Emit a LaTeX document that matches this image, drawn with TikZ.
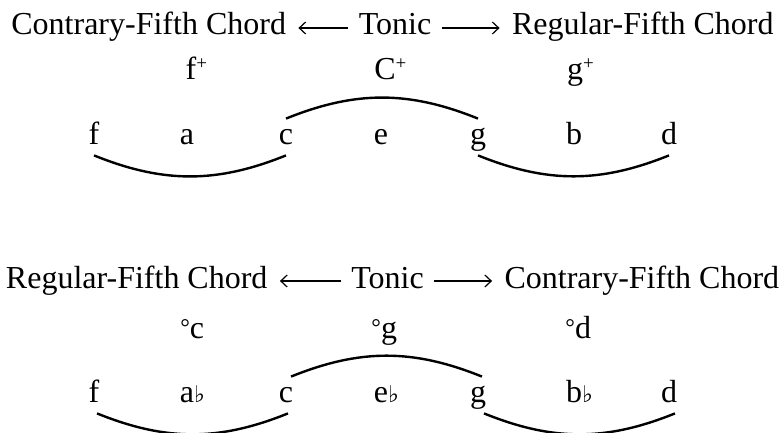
\documentclass[tikz,border=0pt]{standalone}
\usepackage{fontspec}
\setmainfont{Liberation Serif}
\newfontfamily\symbolfont{DejaVu Sans}
\usetikzlibrary{arrows.meta,positioning}
\newcommand{\fl}{\rlap{\symbolfont\fontsize{11.5}{11.5}\selectfont ♭}}
\newcommand{\maj}{\rlap{\fontsize{9.5}{9.5}\selectfont\raisebox{5pt}{+}}}
\newcommand{\mnr}{\llap{\fontsize{12}{12}\selectfont\raisebox{1.2pt}{°}}}

\begin{document}
\begin{tikzpicture}[
  x=0.5pt, y=0.5pt,
  every node/.style={font=\fontsize{16}{19}\selectfont},
  ttl/.style={inner sep=0pt, text height=11pt, text depth=4pt},
  lbl/.style={inner sep=0pt, anchor=base},
  ltr/.style={inner sep=0pt, anchor=base, text height=12.5pt, text depth=5.5pt},
  arr/.style={-{Straight Barb[length=3.2pt,width=6pt]}, line width=0.6pt, shorten <=5pt, shorten >=6pt},
  tie/.style={line width=1.2pt}
]
  \useasboundingbox (0,0) rectangle (781,-433);

  % upper system
  \node[ttl, anchor=base] (tonicA) at (395,-35) {Tonic};
  \node[ttl, left=36pt of tonicA] (contraA) {Contrary-Fifth Chord};
  \node[ttl, right=40pt of tonicA] (regA) {Regular-Fifth Chord};
  \draw[arr] (tonicA) -- (contraA);
  \draw[arr] (tonicA) -- (regA);

  \node[lbl] (fplus) at (191,-80) {f\maj};
  \node[lbl] (cplus) at (385,-80) {C\maj};
  \node[lbl] (gplus) at (575,-80) {g\maj};

  \node[ltr] (fA) at (94,-144) {f};
  \node[ltr] (aA) at (187,-144) {a};
  \node[ltr] (cA) at (286,-144) {c};
  \node[ltr] (eA) at (381,-144) {e};
  \node[ltr] (gA) at (478,-144) {g};
  \node[ltr] (bA) at (574,-144) {b};
  \node[ltr] (dA) at (669,-144) {d};

  \draw[tie] (fA.south) to[bend right=22] (cA.south);
  \draw[tie] (cA.north) to[bend left=22] (gA.north);
  \draw[tie] (gA.south) to[bend right=22] (dA.south);

  % lower system
  \node[ttl, anchor=base] (tonicB) at (387.5,-288) {Tonic};
  \node[ttl, left=41.5pt of tonicB] (regB) {Regular-Fifth Chord};
  \node[ttl, right=40pt of tonicB] (contraB) {Contrary-Fifth Chord};
  \draw[arr] (tonicB) -- (regB);
  \draw[arr] (tonicB) -- (contraB);

  \node[lbl] (cminus) at (197,-338) {\mnr c};
  \node[lbl] (gminus) at (389,-338) {\mnr g};
  \node[lbl] (dminus) at (583,-338) {\mnr d};

  \node[ltr] (fB) at (94,-402) {f};
  \node[ltr] (aB) at (187,-402) {a\fl};
  \node[ltr] (cB) at (286,-402) {c};
  \node[ltr] (eB) at (381,-402) {e\fl};
  \node[ltr] (gB) at (478,-402) {g};
  \node[ltr] (bB) at (574,-402) {b\fl};
  \node[ltr] (dB) at (669,-402) {d};

  \draw[tie] ([xshift=1.5pt]fB.south) to[bend right=22] ([xshift=1pt]cB.south);
  \draw[tie] ([xshift=2.5pt]cB.north) to[bend left=22] ([xshift=2pt]gB.north);
  \draw[tie] ([xshift=3pt]gB.south) to[bend right=22] ([xshift=3pt]dB.south);
\end{tikzpicture}
\end{document}
